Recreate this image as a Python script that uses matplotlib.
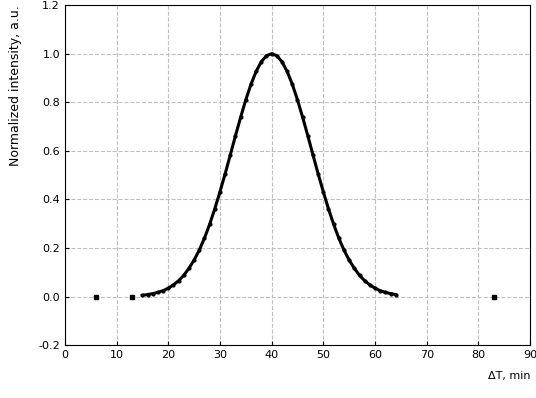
import matplotlib
matplotlib.use("Agg")
import matplotlib.pyplot as plt

# curve (peak ~40, baseline 0)
curve_x = [15, 16, 17, 18, 19, 20, 21, 22, 23, 24, 25, 26, 27, 28, 29, 30,
           31, 32, 33, 34, 35, 36, 37, 38, 39, 40, 41, 42, 43, 44, 45, 46,
           47, 48, 49, 50, 51, 52, 53, 54, 55, 56, 57, 58, 59, 60, 61, 62,
           63, 64]
curve_y = [0.005, 0.008, 0.012, 0.017, 0.024, 0.034, 0.048, 0.065, 0.087,
           0.116, 0.150, 0.191, 0.240, 0.297, 0.361, 0.431, 0.505, 0.583,
           0.662, 0.738, 0.810, 0.874, 0.927, 0.967, 0.992, 1.000, 0.992,
           0.967, 0.927, 0.874, 0.810, 0.738, 0.662, 0.583, 0.505, 0.431,
           0.361, 0.297, 0.240, 0.191, 0.150, 0.116, 0.087, 0.065, 0.048,
           0.034, 0.024, 0.017, 0.012, 0.008]

# lone points on the baseline
lone_x = [6, 13, 83]
lone_y = [0.0, 0.0, 0.0]

x_ticks = [0, 10, 20, 30, 40, 50, 60, 70, 80, 90]
y_ticks = [-0.2, 0.0, 0.2, 0.4, 0.6, 0.8, 1.0, 1.2]

fig = plt.figure(figsize=(5.36, 3.98), dpi=100)
ax = fig.add_axes([0.121, 0.133, 0.868, 0.854])

ax.plot(curve_x, curve_y, color="black", linewidth=2.2, marker=".",
        markersize=4)
ax.plot(lone_x, lone_y, linestyle="none", color="black", marker="s",
        markersize=3)

ax.set_xlim(0, 90)
ax.set_ylim(-0.2, 1.2)
ax.set_xticks(x_ticks)
ax.set_yticks(y_ticks)
ax.set_yticklabels([f"{v:.1f}" for v in y_ticks])
ax.tick_params(labelsize=8, direction="in", length=3)
ax.grid(True, linestyle="--", color="0.75", linewidth=0.8)

ax.set_xlabel("ΔT, min", fontsize=8, loc="right", labelpad=8)
ax.set_ylabel("Normalized intensity, a.u.", fontsize=9, loc="top",
              labelpad=12)

fig.savefig("out.png", dpi=100)
